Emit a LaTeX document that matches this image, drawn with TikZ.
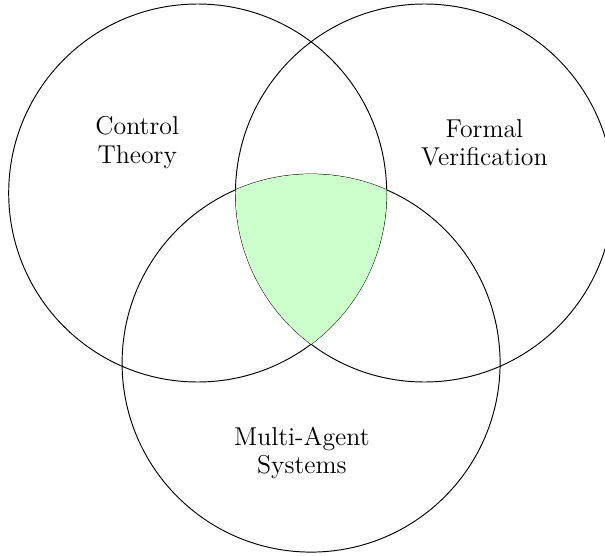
\documentclass[tikz,border=0pt]{standalone}
\usepackage{fontspec}
\begin{document}
\begin{tikzpicture}[
  venn/.style={draw, circle, minimum size=7cm, inner sep=0pt, line width=0.5pt},
  lbl/.style={align=center, font=\fontsize{13.6}{14.9}\selectfont}
]
\useasboundingbox (-3.661,-6.722) rectangle (7.543,3.574);

% the three sets
\node[venn] (ct) at (0,0) {};
\node[venn] (fv) at (4.2,0) {};
\node[venn] (mas) at (2.1,-3.15) {};

% common intersection of all three
\begin{scope}
  \clip (0,0) circle (3.5cm);
  \clip (4.2,0) circle (3.5cm);
  \fill[green!20] (2.1,-3.15) circle (3.5cm);
\end{scope}

% set labels
\node[lbl] (ctl) at (-1.12,0.935) {Control\\Theory};
\node[lbl] (fvl) at (5.31,0.935) {Formal\\Verification};
\node[lbl] (masl) at (1.93,-4.81) {Multi-Agent\\Systems};
\end{tikzpicture}
\end{document}
